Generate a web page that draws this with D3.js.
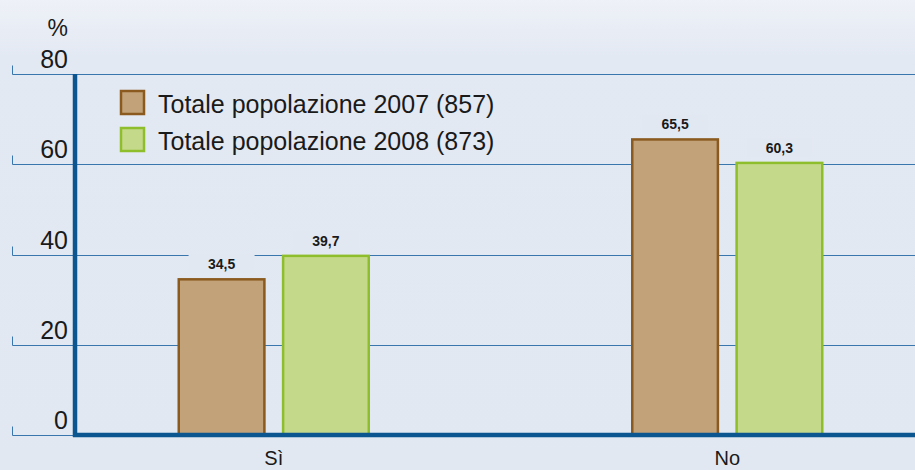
<!DOCTYPE html>
<html>
<head>
<meta charset="utf-8">
<script src="https://cdn.jsdelivr.net/npm/d3@7"></script>
<style>
  body { margin: 0; background: #e2e8f2; }
  svg { display: block; }
</style>
</head>
<body>
<script>
// chart data
var categories = ["Sì", "No"];
var seriesNames = ["Totale popolazione 2007 (857)", "Totale popolazione 2008 (873)"];
var values2007 = [34.5, 65.5];
var values2008 = [39.7, 60.3];
var yTicks = [0, 20, 40, 60, 80];

var w = 915, h = 470;
var fills = ["#c2a278", "#c4d98a"];
var strokes = ["#8a5a1e", "#8fbe2c"];

var svg = d3.select("body")
  .append("svg")
  .attr("width", w)
  .attr("height", h);

// soft background gradient
var grad = svg.append("defs").append("linearGradient")
  .attr("id", "bg")
  .attr("x1", 0).attr("y1", 0).attr("x2", 0).attr("y2", 1);
grad.append("stop").attr("offset", "0").attr("stop-color", "#eef1f7");
grad.append("stop").attr("offset", "0.12").attr("stop-color", "#e3e9f3");
grad.append("stop").attr("offset", "1").attr("stop-color", "#e2e8f2");

svg.append("rect")
  .attr("width", w).attr("height", h)
  .style("fill", "url(#bg)");

var axisX = 75;
var y = d3.scaleLinear()
  .domain([0, 80])
  .range([435, 74]);

// two groups, centres at ~273 and ~727
var x0 = d3.scaleBand()
  .domain(categories)
  .range([47, 954]);

var x1 = d3.scaleBand()
  .domain([0, 1])
  .range([0, 192])
  .paddingInner(0.16);

// gridlines and ticks
var grid = svg.append("g").attr("class", "grid");
grid.selectAll(".gline")
  .data(yTicks)
  .enter()
  .append("path")
  .attr("class", "gline")
  .attr("d", function(d){
    var yy = Math.round(y(d)) + 0.5;
    return "M12.5," + (yy - 9) + "V" + yy + "H" + w;
  })
  .style("fill", "none")
  .style("stroke", "#3a76ae")
  .style("stroke-width", 1);

grid.selectAll(".tlabel")
  .data(yTicks)
  .enter()
  .append("text")
  .attr("class", "tlabel")
  .attr("x", 68)
  .attr("y", function(d){ return y(d) - 6; })
  .attr("text-anchor", "end")
  .style("font-family", "Liberation Sans, Arial, sans-serif")
  .style("font-size", "25px")
  .style("fill", "#1a1a1a")
  .text(function(d){ return d; });

svg.append("text")
  .attr("x", 68)
  .attr("y", 36)
  .attr("text-anchor", "end")
  .style("font-family", "Liberation Sans, Arial, sans-serif")
  .style("font-size", "23px")
  .style("fill", "#1a1a1a")
  .text("%");

// bars
var rows = categories.map(function(c, i){
  return { cat: c, vals: [values2007[i], values2008[i]] };
});

var groups = svg.selectAll(".grp")
  .data(rows)
  .enter()
  .append("g")
  .attr("class", "grp")
  .attr("transform", function(d){
    var cx = x0(d.cat) + x0.bandwidth() / 2;
    return "translate(" + (cx - 96) + ",0)";
  });

groups.selectAll("rect")
  .data(function(d){ return d.vals; })
  .enter()
  .append("rect")
  .attr("x", function(d, i){ return x1(i) + 1; })
  .attr("y", function(d){ return y(d); })
  .attr("width", x1.bandwidth() - 2)
  .attr("height", function(d){ return y(0) - y(d); })
  .style("fill", function(d, i){ return fills[i]; })
  .style("stroke", function(d, i){ return strokes[i]; })
  .style("stroke-width", 2.5);

// value labels with background mask
var fmt = function(v){ return d3.format(".1f")(v).replace(".", ","); };
var lab = groups.selectAll(".val")
  .data(function(d){ return d.vals; })
  .enter()
  .append("g")
  .attr("class", "val");

lab.append("rect")
  .attr("x", function(d, i){ return x1(i) + x1.bandwidth() / 2 - 33; })
  .attr("y", function(d){ return y(d) - 25; })
  .attr("width", 66)
  .attr("height", 19)
  .style("fill", "#e2e8f2");

lab.append("text")
  .attr("x", function(d, i){ return x1(i) + x1.bandwidth() / 2; })
  .attr("y", function(d){ return y(d) - 10; })
  .attr("text-anchor", "middle")
  .style("font-family", "Liberation Sans, Arial, sans-serif")
  .style("font-weight", "bold")
  .style("font-size", "14px")
  .style("fill", "#1a1a1a")
  .text(function(d){ return fmt(d); });

// axes lines
svg.append("line")
  .attr("x1", axisX).attr("x2", axisX)
  .attr("y1", y(80)).attr("y2", y(0) + 2)
  .style("stroke", "#0b5591")
  .style("stroke-width", 4.5);

svg.append("line")
  .attr("x1", axisX - 2).attr("x2", w)
  .attr("y1", y(0)).attr("y2", y(0))
  .style("stroke", "#0b5591")
  .style("stroke-width", 4.5);

// category labels
svg.selectAll(".cat")
  .data(categories)
  .enter()
  .append("text")
  .attr("class", "cat")
  .attr("x", function(d){ return x0(d) + x0.bandwidth() / 2; })
  .attr("y", 465)
  .attr("text-anchor", "middle")
  .style("font-family", "Liberation Sans, Arial, sans-serif")
  .style("font-size", "20px")
  .style("fill", "#1a1a1a")
  .text(function(d){ return d; });

// legend
var legend = svg.selectAll(".leg")
  .data(seriesNames)
  .enter()
  .append("g")
  .attr("class", "leg")
  .attr("transform", function(d, i){ return "translate(121," + (91 + i * 37) + ")"; });

legend.append("rect")
  .attr("width", 23).attr("height", 23)
  .style("fill", function(d, i){ return fills[i]; })
  .style("stroke", function(d, i){ return strokes[i]; })
  .style("stroke-width", 2.5);

legend.append("text")
  .attr("x", 37)
  .attr("y", 22)
  .style("font-family", "Liberation Sans, Arial, sans-serif")
  .style("font-size", "25px")
  .style("fill", "#1a1a1a")
  .text(function(d){ return d; });
</script>
</body>
</html>
